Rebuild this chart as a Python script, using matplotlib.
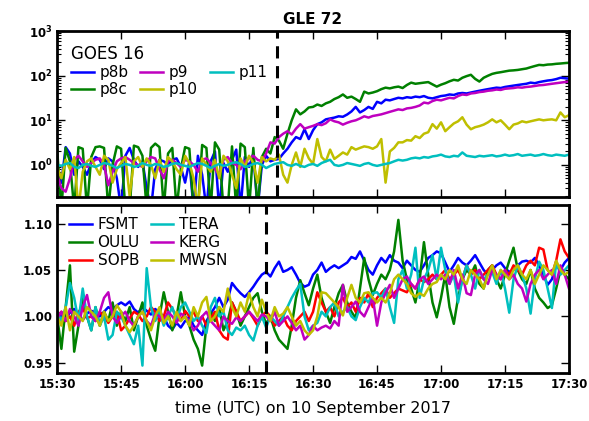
import numpy as np
import pandas as pd
import matplotlib
matplotlib.use('Agg')
import matplotlib.pyplot as plt
import matplotlib.dates as mdates

# one-minute samples, 15:30 .. 17:30 UTC
times = pd.date_range('2017-09-10 15:30', '2017-09-10 17:30', freq='1min')
onset_goes = pd.Timestamp('2017-09-10 16:21:30')
onset_nm = pd.Timestamp('2017-09-10 16:19:00')

# GOES 16 proton channels (values <= 0.1 are dropouts below the axis)
p8b = [1.0, 0.4, 2.5, 1.8, 0.6, 1.2, 0.9, 0.6, 1.1, 1.5, 1.3, 0.8, 1.4, 1.2, 0.5, 0.1, 1.6,
       2.4, 1.3, 0.9, 1.2, 0.3, 0.1, 0.8, 1.3, 1.2, 1.0, 1.3, 1.4, 0.9, 0.4, 1.2, 0.1, 1.6,
       0.6, 0.1, 1.2, 2.0, 0.1, 1.1, 0.7, 1.3, 2.2, 0.1, 1.5, 0.9, 1.8, 0.1, 1.0, 1.6, 1.2,
       1.3, 1.36, 1.8, 2.3, 3.2, 4.2, 3.8, 6.3, 3.8, 6.0, 8.2, 9.0, 10.5, 11, 11.5, 12.3,
       12, 13.5, 15.8, 20, 15, 17, 20, 18, 26, 24, 29, 28, 30, 32, 31, 33, 32, 34, 33, 35,
       32, 31, 33, 35, 36, 38, 37, 40, 41, 40, 42, 44, 46, 48, 50, 52, 54, 53, 56, 58, 60,
       62, 64, 66, 70, 68, 72, 75, 78, 80, 84, 90, 88, 86]
p8c = [2.2, 0.1, 2.4, 1.2, 0.1, 2.5, 2.3, 0.1, 1.5, 2.5, 2.6, 2.4, 0.1, 1.0, 2.6, 2.3, 0.1,
       0.1, 2.7, 2.5, 1.6, 0.1, 2.4, 3.0, 2.5, 0.1, 1.8, 2.4, 0.1, 0.8, 2.5, 2.3, 0.1, 0.1,
       2.8, 2.4, 0.1, 3.2, 2.2, 0.1, 0.1, 2.6, 0.1, 3.0, 2.5, 0.1, 2.4, 0.1, 1.5, 2.3, 1.8,
       4.2, 3.5, 2.3, 5.0, 10, 17.6, 13.6, 15.8, 19.4, 20, 22.6, 21, 24, 26, 30, 33, 38, 32,
       34, 30, 26, 44, 40, 42, 45, 50, 54, 52, 55, 57, 53, 62, 70, 66, 68, 70, 72, 64, 57,
       63, 68, 75, 81, 78, 90, 98, 105, 85, 74, 90, 100, 110, 116, 120, 125, 130, 132, 135,
       140, 145, 155, 165, 175, 172, 178, 180, 185, 188, 192, 195]
p9 = [0.6, 0.3, 0.25, 0.5, 1.3, 1.6, 1.2, 0.9, 1.1, 1.3, 1.4, 1.0, 0.35, 0.7, 1.2, 1.4, 1.5,
      1.3, 1.1, 1.0, 0.9, 1.2, 1.5, 1.4, 0.8, 0.5, 1.2, 1.3, 1.1, 0.9, 1.3, 1.2, 1.0, 0.7,
      1.3, 1.4, 1.1, 0.8, 0.6, 1.3, 1.5, 1.1, 1.0, 0.8, 1.2, 1.4, 1.6, 1.3, 1.2, 1.8, 3.2,
      3.0, 4.2, 5.0, 5.7, 4.8, 6.5, 8.2, 6.5, 7.0, 7.5, 8.2, 7.8, 8.6, 10.5, 9.5, 9.0, 8.0,
      8.8, 9.5, 10, 11, 12.3, 11.5, 12.5, 13, 13.6, 14.5, 15.5, 16.5, 17.6, 17, 18.5, 19, 20,
      21.5, 25, 24, 27, 29, 28, 30, 32, 31, 35, 38, 37, 40, 41, 43, 44, 46, 47, 49, 48, 51,
      52, 53, 55, 54, 56, 57, 59, 61, 62, 64, 66, 68, 70, 72, 74]
p10 = [0.9, 0.5, 1.3, 0.8, 1.5, 0.1, 0.7, 1.2, 1.4, 0.9, 0.6, 1.6, 1.3, 0.4, 0.8, 1.1, 1.5,
       0.2, 1.2, 1.5, 0.9, 1.4, 1.0, 0.5, 1.3, 0.7, 1.5, 1.2, 0.8, 0.6, 1.6, 1.1, 0.5, 0.1,
       1.4, 1.0, 0.7, 1.3, 0.5, 1.6, 1.2, 0.6, 0.3, 1.4, 0.9, 1.6, 1.1, 0.4, 1.5, 1.2, 1.4,
       1.3, 1.7, 0.6, 0.4, 1.0, 1.9, 0.9, 2.3, 1.4, 1.05, 3.8, 1.5, 1.2, 2.2, 1.36, 1.6, 1.9,
       1.7, 2.5, 2.2, 2.4, 2.6, 2.5, 2.3, 2.6, 3.8, 0.4, 2.0, 2.4, 3.2, 3.2, 3.6, 3.5, 4.4,
       4.0, 5.0, 5.4, 8.2, 6.5, 9.0, 5.7, 7.0, 8.5, 9.5, 11.7, 8.0, 6.3, 7.0, 7.4, 8.0, 9.0,
       10.5, 9.0, 10, 8.0, 6.3, 8.0, 8.5, 9.5, 9.0, 9.5, 10, 10.5, 10, 10.3, 10.5, 10, 15,
       11.7, 13]
p11 = [1.0, 0.95, 1.05, 1.1, 0.9, 0.85, 1.0, 1.05, 0.95, 0.9, 1.0, 1.1, 1.05, 0.95, 0.85,
       0.95, 1.05, 1.0, 0.9, 0.95, 1.1, 1.0, 0.95, 1.05, 1.0, 0.9, 0.95, 1.05, 1.1, 1.0, 0.95,
       0.9, 1.0, 1.1, 1.05, 0.95, 0.85, 0.95, 1.05, 0.95, 1.0, 1.1, 1.15, 1.05, 0.9, 0.95,
       1.05, 1.1, 1.0, 0.85, 0.95, 1.05, 1.1, 1.15, 1.0, 0.95, 1.05, 0.95, 0.9, 1.0, 1.05,
       0.95, 1.1, 1.2, 1.3, 1.0, 0.95, 1.0, 1.1, 1.05, 1.0, 0.95, 1.05, 1.1, 1.0, 0.95, 1.0,
       1.05, 1.1, 1.2, 1.3, 1.25, 1.3, 1.4, 1.45, 1.4, 1.5, 1.45, 1.55, 1.6, 1.7, 1.55, 1.5,
       1.6, 1.55, 1.9, 1.6, 1.55, 1.5, 1.6, 1.55, 1.6, 1.65, 1.55, 1.6, 1.7, 1.6, 1.65, 1.75,
       1.6, 1.65, 1.7, 1.6, 1.65, 1.75, 1.65, 1.6, 1.7, 1.65, 1.6, 1.7]

# neutron monitor count rates, normalised
fsmt = [1.005, 1.0, 0.998, 1.004, 1.008, 1.002, 0.996, 1.003, 1.006, 1.004, 1.0, 1.005, 1.01,
        1.007, 1.012, 1.015, 1.012, 1.016, 1.008, 1.004, 1.01, 1.006, 1.002, 1.008, 1.004,
        1.0, 0.99, 0.986, 0.993, 0.988, 0.995, 1.0, 0.99, 0.985, 0.98, 0.995, 1.003, 1.01,
        1.02, 1.01, 1.018, 1.036, 1.03, 1.025, 1.021, 1.026, 1.032, 1.039, 1.045, 1.048, 1.043,
        1.052, 1.059, 1.048, 1.05, 1.053, 1.045, 1.036, 1.032, 1.034, 1.045, 1.05, 1.058, 1.048,
        1.052, 1.055, 1.052, 1.055, 1.058, 1.064, 1.062, 1.07, 1.06, 1.05, 1.045, 1.055, 1.063,
        1.058, 1.066, 1.06, 1.058, 1.052, 1.06, 1.055, 1.05, 1.048, 1.055, 1.063, 1.066, 1.07,
        1.068, 1.058, 1.048, 1.055, 1.063, 1.058, 1.055, 1.06, 1.066, 1.058, 1.05, 1.045, 1.05,
        1.055, 1.058, 1.052, 1.048, 1.05, 1.055, 1.059, 1.06, 1.058, 1.063, 1.055, 1.045, 1.034,
        1.04, 1.055, 1.05, 1.058, 1.063]
oulu = [1.0, 0.965, 1.01, 1.055, 0.962, 0.99, 1.02, 1.0, 0.985, 1.01, 0.99, 1.005, 0.995,
        1.015, 0.99, 1.005, 0.995, 1.01, 0.985, 1.0, 1.015, 0.99, 0.975, 0.963, 1.0, 1.026,
        1.005, 0.985, 1.0, 1.026, 1.0, 0.99, 0.975, 0.965, 0.947, 0.99, 1.005, 0.995, 1.01,
        0.985, 0.995, 1.015, 1.005, 0.99, 1.0, 1.01, 1.02, 1.025, 1.005, 0.992, 1.0, 0.985,
        0.975, 0.97, 0.965, 0.99, 1.02, 1.039, 1.025, 1.012, 1.03, 1.045, 1.02, 1.005, 0.993,
        1.01, 1.025, 1.034, 1.015, 1.005, 0.998, 1.03, 1.063, 1.04, 1.023, 1.035, 1.045, 1.04,
        1.05, 1.07, 1.104, 1.06, 1.04, 1.03, 1.015, 1.04, 1.08, 1.045, 1.015, 0.999, 1.02,
        1.045, 1.01, 0.992, 1.02, 1.04, 1.05, 1.045, 1.055, 1.035, 1.03, 1.05, 1.055, 1.04,
        1.03, 1.045, 1.06, 1.074, 1.05, 1.04, 1.035, 1.05, 1.03, 1.02, 1.015, 1.009, 1.012,
        1.03, 1.05, 1.045, 1.04]
sopb = [1.0, 1.005, 0.995, 1.0, 0.99, 1.005, 1.01, 0.998, 1.0, 0.995, 1.005, 1.0, 0.993, 1.0,
        1.005, 0.985, 0.99, 0.998, 1.005, 1.002, 0.995, 1.0, 1.01, 1.005, 0.995, 1.0, 1.015,
        1.008, 1.0, 0.995, 1.006, 1.0, 1.005, 0.995, 1.0, 0.99, 0.998, 1.005, 0.985, 0.978,
        0.975, 1.015, 1.005, 0.995, 1.0, 1.005, 0.998, 0.99, 1.0, 1.005, 1.0, 0.99, 0.995, 1.0,
        0.99, 0.985, 0.995, 1.0, 1.005, 0.995, 1.005, 1.026, 1.015, 1.005, 1.01, 1.0, 1.015,
        1.02, 1.01, 1.015, 1.005, 1.02, 1.015, 1.025, 1.01, 1.02, 1.025, 1.03, 1.02, 1.025,
        1.03, 1.028, 1.026, 1.035, 1.03, 1.04, 1.037, 1.04, 1.045, 1.04, 1.045, 1.05, 1.04,
        1.045, 1.05, 1.04, 1.055, 1.045, 1.05, 1.04, 1.045, 1.05, 1.055, 1.045, 1.04, 1.05,
        1.045, 1.055, 1.05, 1.045, 1.055, 1.06, 1.055, 1.074, 1.072, 1.05, 1.045, 1.06, 1.083,
        1.07, 1.063]
tera = [1.005, 0.995, 1.01, 1.036, 1.02, 0.995, 1.03, 1.0, 0.985, 1.01, 0.99, 1.0, 0.975,
        0.98, 1.005, 1.0, 0.99, 0.98, 0.97, 0.99, 0.947, 1.052, 1.01, 0.995, 1.005, 0.99, 1.0,
        1.01, 0.995, 1.01, 1.015, 1.005, 0.995, 1.0, 0.99, 0.982, 1.01, 1.02, 1.0, 1.005,
        0.985, 0.98, 0.988, 0.985, 0.99, 0.98, 0.974, 0.99, 1.0, 0.988, 1.0, 0.995, 0.99, 1.0,
        1.01, 1.02, 1.028, 1.035, 1.0, 0.985, 0.99, 0.993, 1.005, 1.0, 1.01, 1.015, 1.0, 1.005,
        1.01, 1.0, 0.996, 1.01, 1.02, 1.015, 1.025, 1.026, 1.02, 1.03, 1.01, 0.993, 1.04, 1.05,
        1.03, 1.045, 1.074, 1.02, 1.04, 1.05, 1.066, 1.04, 1.074, 1.05, 1.035, 1.045, 1.015,
        1.04, 1.055, 1.045, 1.03, 1.05, 1.04, 1.045, 1.048, 1.035, 1.05, 1.03, 1.004, 1.04,
        1.055, 1.045, 1.03, 1.003, 1.04, 1.059, 1.05, 1.03, 1.009, 1.059, 1.045, 1.05, 1.055]
kerg = [0.998, 1.005, 0.995, 1.008, 1.0, 0.99, 1.01, 1.023, 1.0, 0.995, 1.005, 1.02, 1.026,
        1.0, 0.993, 1.0, 1.005, 0.995, 0.99, 1.0, 1.005, 0.995, 0.99, 1.003, 1.0, 0.995, 1.005,
        1.0, 0.993, 1.003, 1.0, 0.995, 0.985, 0.99, 1.0, 1.005, 0.995, 0.99, 0.985, 1.0, 0.995,
        0.992, 0.999, 0.995, 1.0, 1.005, 1.0, 0.995, 1.002, 1.0, 0.995, 1.005, 0.99, 0.995,
        1.0, 0.993, 0.985, 0.99, 0.975, 0.98, 0.99, 0.985, 0.988, 0.99, 0.987, 0.995, 0.99,
        1.034, 1.005, 1.01, 1.016, 1.005, 1.0, 1.01, 1.02, 0.99, 1.015, 1.025, 1.034, 1.02,
        1.03, 1.04, 1.043, 1.035, 1.03, 1.04, 1.043, 1.035, 1.04, 1.045, 1.04, 1.045, 1.035,
        1.05, 1.03, 1.045, 1.025, 1.023, 1.045, 1.05, 1.04, 1.035, 1.05, 1.045, 1.04, 1.05,
        1.04, 1.045, 1.035, 1.03, 1.016, 1.035, 1.045, 1.05, 1.04, 1.045, 1.05, 1.035, 1.055,
        1.045, 1.03]
mwsn = [1.0, 0.99, 1.01, 0.985, 1.005, 1.0, 0.995, 1.01, 1.005, 1.0, 0.99, 1.005, 0.995, 1.0,
        1.012, 1.005, 0.99, 0.983, 0.99, 1.0, 1.005, 0.995, 0.985, 1.0, 1.01, 0.993, 1.0, 0.99,
        1.005, 0.995, 1.0, 0.99, 1.01, 1.0, 1.015, 1.021, 0.995, 1.0, 1.01, 1.005, 1.03, 1.01,
        1.0, 1.015, 1.005, 1.025, 1.01, 1.0, 1.018, 1.005, 0.995, 1.01, 1.0, 1.003, 1.01, 1.0,
        0.99, 0.995, 0.985, 0.98, 0.985, 1.0, 1.026, 1.025, 1.02, 1.015, 1.01, 1.001, 1.02,
        1.034, 1.02, 1.015, 1.025, 1.026, 1.02, 1.015, 1.02, 1.015, 1.025, 1.04, 1.045, 1.04,
        1.035, 1.025, 1.021, 1.025, 1.022, 1.03, 1.035, 1.037, 1.045, 1.04, 1.05, 1.045, 1.055,
        1.04, 1.035, 1.05, 1.045, 1.04, 1.03, 1.045, 1.055, 1.04, 1.05, 1.045, 1.04, 1.05,
        1.055, 1.045, 1.04, 1.05, 1.035, 1.045, 1.055, 1.05, 1.045, 1.06, 1.05, 1.045, 1.048]

goes = [('p8b', p8b, 'b'), ('p8c', p8c, 'g'), ('p9', p9, 'm'),
        ('p10', p10, 'y'), ('p11', p11, 'c')]
nm = [('FSMT', fsmt, 'b'), ('OULU', oulu, 'g'), ('SOPB', sopb, 'r'),
      ('TERA', tera, 'c'), ('KERG', kerg, 'm'), ('MWSN', mwsn, 'y')]
colors = {'b': (0, 0, 1), 'g': (0, 0.5, 0), 'r': (1, 0, 0),
          'c': (0, 0.75, 0.75), 'm': (0.75, 0, 0.75), 'y': (0.75, 0.75, 0)}

for name, vals, c in goes + nm:
    assert len(vals) == len(times), (name, len(vals))

fig = plt.figure(figsize=(5.89, 4.21), dpi=100)
ax1 = fig.add_axes([0.097, 0.532, 0.869, 0.394])
ax2 = fig.add_axes([0.097, 0.114, 0.869, 0.399])

for name, vals, c in goes:
    ax1.plot(times, vals, color=colors[c], lw=1.8, label=name)
for name, vals, c in nm:
    ax2.plot(times, vals, color=colors[c], lw=1.8, label=name)

ax1.axvline(onset_goes, color='k', lw=2.2, dashes=(4, 2.5))
ax2.axvline(onset_nm, color='k', lw=2.2, dashes=(4, 2.5))

ax1.set_yscale('log')
ax1.set_ylim(0.19, 1000)
ax1.set_yticks([1, 10, 100, 1000])
ax1.set_yticklabels([r'$\mathbf{10^{0}}$', r'$\mathbf{10^{1}}$',
                     r'$\mathbf{10^{2}}$', r'$\mathbf{10^{3}}$'])
ax2.set_ylim(0.939, 1.12)
ax2.set_yticks([0.95, 1.00, 1.05, 1.10])
ax2.set_yticklabels(['0.95', '1.00', '1.05', '1.10'])

for ax in (ax1, ax2):
    ax.set_xlim(times[0], times[-1])
    ax.xaxis.set_major_locator(mdates.MinuteLocator(byminute=[0, 15, 30, 45]))
    ax.xaxis.set_major_formatter(mdates.DateFormatter('%H:%M'))
    ax.tick_params(which='both', direction='in', top=True, right=True)
    ax.tick_params(which='major', length=6, width=1, labelsize=8.5)
    ax.tick_params(which='minor', length=3, width=0.8)
    for sp in ax.spines.values():
        sp.set_linewidth(2.0)
    for lab in ax.get_xticklabels() + ax.get_yticklabels():
        lab.set_fontweight('bold')
ax1.tick_params(labelbottom=False)

leg1 = ax1.legend(title='GOES 16', ncol=3, loc='upper left', frameon=False,
                  fontsize=11, title_fontsize=12, handlelength=1.5,
                  handletextpad=0.35, columnspacing=0.8, labelspacing=0.15,
                  borderaxespad=0.5, alignment='left')
leg2 = ax2.legend(ncol=2, loc='upper left', frameon=False, fontsize=11,
                  handlelength=1.5, handletextpad=0.35, columnspacing=0.7,
                  labelspacing=0.2, borderaxespad=0.4)
for leg in (leg1, leg2):
    for h in leg.get_lines():
        h.set_linewidth(1.8)

ax1.set_title('GLE 72', fontsize=11, fontweight='bold', pad=5)
ax2.set_xlabel('time (UTC) on 10 September 2017', fontsize=11.5, labelpad=7)

fig.savefig('out.png', dpi=100)
